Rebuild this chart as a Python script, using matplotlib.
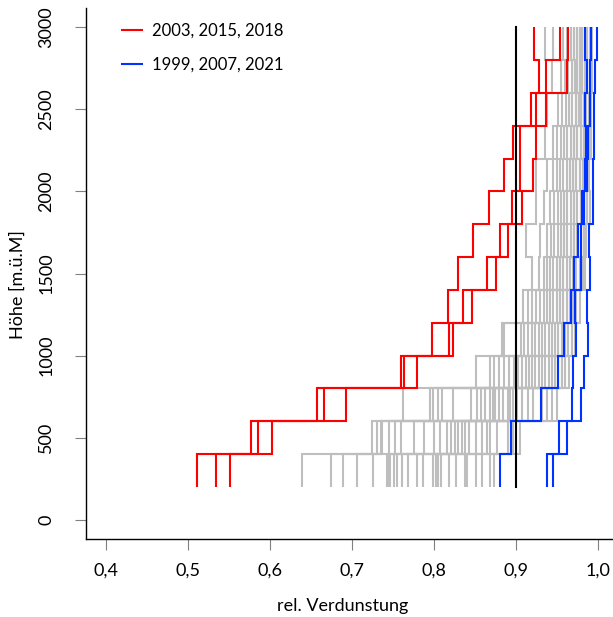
import numpy as np
import matplotlib
matplotlib.use("Agg")
import matplotlib.pyplot as plt
from matplotlib.lines import Line2D
from matplotlib import font_manager

# ---------------- data ----------------
band_edges = [200, 400, 600, 800, 1000, 1200, 1400, 1600, 1800,
              2000, 2200, 2400, 2600, 2800, 3000]

red_label = "2003, 2015, 2018"
blue_label = "1999, 2007, 2021"

red_a = [0.511, 0.577, 0.658, 0.760, 0.798, 0.817, 0.829, 0.848, 0.867, 0.886, 0.897, 0.918, 0.928, 0.922]
red_b = [0.534, 0.586, 0.666, 0.764, 0.819, 0.836, 0.865, 0.881, 0.895, 0.905, 0.905, 0.925, 0.937, 0.954]
red_c = [0.551, 0.602, 0.693, 0.779, 0.823, 0.847, 0.876, 0.891, 0.908, 0.921, 0.925, 0.937, 0.962, 0.964]

blue_a = [0.881, 0.894, 0.931, 0.951, 0.959, 0.967, 0.971, 0.976, 0.981, 0.985, 0.986, 0.985, 0.987, 0.985]
blue_b = [0.938, 0.953, 0.969, 0.970, 0.974, 0.972, 0.980, 0.979, 0.983, 0.987, 0.988, 0.990, 0.990, 0.992]
blue_c = [0.945, 0.962, 0.979, 0.983, 0.988, 0.987, 0.990, 0.989, 0.994, 0.994, 0.995, 0.996, 0.997, 0.999]

# other years, values per altitude band (sorted within band)
gray_200_400 = [0.639, 0.674, 0.689, 0.706, 0.726, 0.743, 0.745, 0.746, 0.752, 0.755, 0.761, 0.768, 0.780,
                0.787, 0.799, 0.803, 0.805, 0.809, 0.818, 0.827, 0.838, 0.841, 0.851, 0.859, 0.869, 0.874]
gray_400_600 = [0.724, 0.731, 0.735, 0.737, 0.745, 0.753, 0.760, 0.776, 0.788, 0.800, 0.808, 0.816, 0.821,
                0.826, 0.830, 0.835, 0.838, 0.843, 0.851, 0.859, 0.865, 0.869, 0.877, 0.890, 0.897, 0.905]
gray_600_800 = [0.763, 0.795, 0.799, 0.805, 0.810, 0.824, 0.845, 0.853, 0.858, 0.863, 0.869, 0.872, 0.875,
                0.880, 0.884, 0.890, 0.893, 0.897, 0.902, 0.908, 0.915, 0.921, 0.932, 0.938, 0.944, 0.950]
gray_800_1000 = [0.851, 0.868, 0.874, 0.880, 0.886, 0.892, 0.898, 0.903, 0.908, 0.912, 0.916, 0.920, 0.924,
                 0.928, 0.932, 0.936, 0.940, 0.944, 0.944, 0.948, 0.952, 0.952, 0.956, 0.960, 0.960, 0.965]
gray_1000_1200 = [0.883, 0.886, 0.900, 0.906, 0.910, 0.915, 0.920, 0.924, 0.928, 0.932, 0.936, 0.940, 0.944,
                  0.944, 0.948, 0.952, 0.952, 0.956, 0.956, 0.960, 0.960, 0.964, 0.964, 0.968, 0.968, 0.972]
gray_1200_1400 = [0.909, 0.915, 0.920, 0.925, 0.930, 0.934, 0.938, 0.942, 0.942, 0.946, 0.950, 0.950, 0.954,
                  0.954, 0.958, 0.958, 0.962, 0.962, 0.966, 0.966, 0.970, 0.970, 0.974, 0.974, 0.978, 0.978]
gray_1400_1600 = [0.920, 0.928, 0.934, 0.938, 0.942, 0.946, 0.950, 0.950, 0.954, 0.954, 0.958, 0.958, 0.962,
                  0.962, 0.966, 0.966, 0.970, 0.970, 0.974, 0.974, 0.978, 0.978, 0.978, 0.982, 0.982, 0.985]
gray_1600_1800 = [0.912, 0.930, 0.938, 0.943, 0.947, 0.951, 0.955, 0.955, 0.959, 0.959, 0.963, 0.963, 0.967,
                  0.967, 0.971, 0.971, 0.971, 0.975, 0.975, 0.979, 0.979, 0.979, 0.983, 0.983, 0.986, 0.986]
gray_1800_2000 = [0.925, 0.935, 0.942, 0.947, 0.951, 0.955, 0.959, 0.959, 0.963, 0.963, 0.967, 0.967, 0.971,
                  0.971, 0.971, 0.975, 0.975, 0.979, 0.979, 0.979, 0.983, 0.983, 0.983, 0.987, 0.987, 0.990]
gray_2000_2200 = [0.925, 0.938, 0.945, 0.950, 0.954, 0.958, 0.962, 0.962, 0.966, 0.966, 0.970, 0.970, 0.970,
                  0.974, 0.974, 0.974, 0.978, 0.978, 0.978, 0.982, 0.982, 0.982, 0.986, 0.986, 0.989, 0.989]
gray_2200_2400 = [0.936, 0.945, 0.950, 0.955, 0.959, 0.963, 0.963, 0.967, 0.967, 0.971, 0.971, 0.971, 0.975,
                  0.975, 0.975, 0.979, 0.979, 0.979, 0.983, 0.983, 0.983, 0.986, 0.986, 0.989, 0.989, 0.992]
gray_2400_2600 = [0.938, 0.952, 0.957, 0.961, 0.965, 0.965, 0.969, 0.969, 0.973, 0.973, 0.973, 0.977, 0.977,
                  0.977, 0.980, 0.980, 0.980, 0.983, 0.983, 0.983, 0.986, 0.986, 0.989, 0.989, 0.992, 0.992]
gray_2600_2800 = [0.944, 0.955, 0.960, 0.964, 0.968, 0.968, 0.972, 0.972, 0.975, 0.975, 0.975, 0.978, 0.978,
                  0.978, 0.981, 0.981, 0.981, 0.984, 0.984, 0.984, 0.987, 0.987, 0.990, 0.990, 0.993, 0.993]
gray_2800_3000 = [0.936, 0.946, 0.958, 0.963, 0.967, 0.967, 0.971, 0.971, 0.975, 0.975, 0.975, 0.978, 0.978,
                  0.978, 0.981, 0.981, 0.981, 0.984, 0.984, 0.984, 0.987, 0.987, 0.990, 0.990, 0.993, 0.993]

reference_value = 0.9
x_ticks = [0.4, 0.5, 0.6, 0.7, 0.8, 0.9, 1.0]
y_ticks = [0, 500, 1000, 1500, 2000, 2500, 3000]
x_label = "rel. Verdunstung"
y_label = "Höhe [m.ü.M]"

# ---------------- style ----------------
installed = {f.name for f in font_manager.fontManager.ttflist}
fam = [f for f in ["Lato", "Open Sans", "DejaVu Sans"] if f in installed]
plt.rcParams["font.family"] = fam
FS = 13
FS_LEG = 12

W, H = 613, 617
fig = plt.figure(figsize=(W / 100, H / 100), dpi=100)
x0, x1 = 86.3, 617.4
ytop, ybot = 7.8, 539.2
ax = fig.add_axes([x0 / W, 1 - ybot / H, (x1 - x0) / W, (ybot - ytop) / H])
ax.set_xlim(0.376, 1.024)
ax.set_ylim(-120, 3120)

gray_bands = [gray_200_400, gray_400_600, gray_600_800, gray_800_1000, gray_1000_1200,
              gray_1200_1400, gray_1400_1600, gray_1600_1800, gray_1800_2000, gray_2000_2200,
              gray_2200_2400, gray_2400_2600, gray_2600_2800, gray_2800_3000]
gray_lines = np.array(gray_bands).T

edges = np.array(band_edges)
ys = np.column_stack([edges[:-1], edges[1:]]).ravel()


def step_line(vals, color):
    xs = np.repeat(np.asarray(vals), 2)
    ax.plot(xs, ys, color=color, lw=1.5, solid_joinstyle="miter", solid_capstyle="butt")


for line in gray_lines:
    step_line(line, "#bebebe")
for vals in (red_a, red_b, red_c):
    step_line(vals, "#ff0000")
for vals in (blue_a, blue_b, blue_c):
    step_line(vals, "#0033ff")
ax.plot([reference_value, reference_value], [band_edges[0], band_edges[-1]], color="black", lw=1.5)

for s in ("top", "right"):
    ax.spines[s].set_visible(False)
for s in ("left", "bottom"):
    ax.spines[s].set_linewidth(1.0)
    ax.spines[s].set_color("black")

ax.set_xticks(x_ticks)
ax.set_xticklabels([f"{v:.1f}".replace(".", ",") for v in x_ticks])
ax.set_yticks(y_ticks)
ax.set_yticklabels([str(v) for v in y_ticks], rotation=90, va="center")
ax.tick_params(axis="both", direction="out", length=8, width=0.8, color="#808080",
               labelsize=FS, labelcolor="black")
ax.tick_params(axis="x", pad=9)
ax.tick_params(axis="y", pad=15)

fig.text(343 / W, 1 - 606 / H, x_label, ha="center", va="center", fontsize=FS)
fig.text(18 / W, 1 - 285 / H, y_label, ha="center", va="center", rotation=90, fontsize=FS)

handles = [Line2D([], [], color="#ff0000", lw=1.5), Line2D([], [], color="#0033ff", lw=1.5)]
leg = ax.legend(handles, [red_label, blue_label], loc="upper left",
                bbox_to_anchor=(122 / W, 1 - 23 / H), bbox_transform=fig.transFigure,
                frameon=False, fontsize=FS_LEG, borderpad=0, borderaxespad=0,
                handlelength=1.2, handletextpad=0.6, labelspacing=1.05)

fig.savefig("out.png", dpi=100)
